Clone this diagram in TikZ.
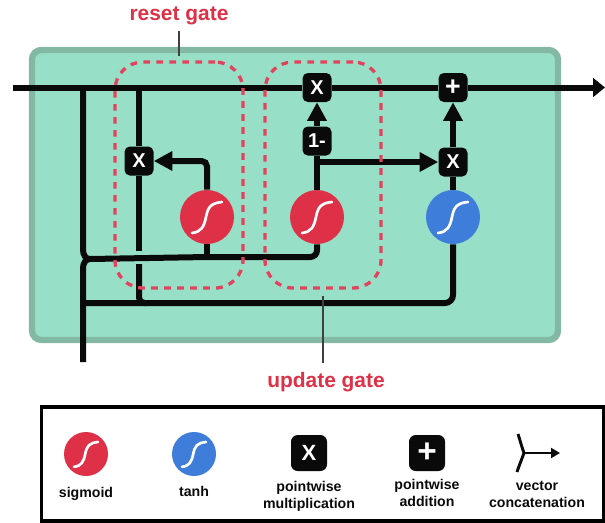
\documentclass[tikz,border=0pt]{standalone}
\usepackage{fontspec}
\setmainfont{Liberation Sans}
\usetikzlibrary{positioning,arrows.meta}

\definecolor{cellFill}{HTML}{98DFC8}
\definecolor{cellEdge}{HTML}{82B8A4}
\definecolor{sigRed}{HTML}{DE3147}
\definecolor{tanhBlue}{HTML}{3E7DD9}
\definecolor{gateRed}{HTML}{E2435C}
\definecolor{opBlack}{HTML}{0A0A0A}

\newcommand{\scurve}[2]{\draw[curveLine, shift={(#1)}, scale=#2] (-15,16) .. controls (-6,15) and (-3,10) .. (-1,0) .. controls (1,-10) and (4,-14) .. (15,-15);}

\begin{document}
\begin{tikzpicture}[x=0.75pt,y=-0.75pt,>={Triangle[length=14pt,width=14pt]}]

    %
    % Styles for cell, operations, wires and gates
    %
    \tikzstyle{cellBox} = [draw=cellEdge, fill=cellFill, line width=4.7pt, rounded corners=7pt,
                           minimum width=394.5pt, minimum height=217.5pt]
    \tikzstyle{opBox} = [fill=opBlack, rounded corners=4pt, inner sep=0pt, text=white,
                         minimum width=21.75pt, minimum height=21.75pt,
                         font={\fontsize{15}{15}\selectfont\bfseries}]
    \tikzstyle{activation} = [circle, inner sep=0pt, minimum size=40.5pt]
    \tikzstyle{legendOp} = [opBox, rounded corners=5pt, minimum width=27pt, minimum height=27pt,
                            font={\fontsize{16.5}{16.5}\selectfont\bfseries}]
    \tikzstyle{legendAct} = [circle, inner sep=0pt, minimum size=33pt]
    \tikzstyle{wire} = [opBlack, line width=4.5pt]
    \tikzstyle{curveLine} = [white, line width=2pt, line cap=round]
    \tikzstyle{gateBox} = [draw=gateRed, line width=2.5pt, dash pattern=on 5pt off 4.75pt,
                           rounded corners=21pt, minimum height=169.5pt]
    \tikzstyle{gateLabel} = [text=sigRed, font={\fontsize{15.7}{18}\selectfont\bfseries}]
    \tikzstyle{callout} = [black!75, line width=0.8pt]
    \tikzstyle{legendLabel} = [align=center, text=opBlack, inner sep=0pt,
                               font={\fontsize{10.6}{12.8}\selectfont\bfseries}]

    \useasboundingbox (0,0) rectangle (605,522);

    %
    % Cell and operations
    %
    \node[cellBox, name=cell] at (295,195) {};
    \node[opBox, name=resetMul] at (139,161) {X};
    \node[opBox, name=updateMul] at (317,87.5) {X};
    \node[opBox, name=oneMinus] at (317,141) {1-};
    \node[opBox, name=outMul] at (453,162) {X};
    \node[opBox, name=outAdd, font={\fontsize{20}{20}\selectfont\bfseries}] at (453,87.5) {\raisebox{-1pt}{+}};
    \node[activation, fill=sigRed, name=resetSig] at (207,217) {};
    \node[activation, fill=sigRed, name=updateSig] at (317,217) {};
    \node[activation, fill=tanhBlue, name=outTanh] at (453,217) {};
    \scurve{resetSig}{1}
    \scurve{updateSig}{1}
    \scurve{outTanh}{1}

    %
    % Points where the wires start, bend and meet
    %
    \coordinate (stateIn) at (13,87.5);
    \coordinate (stateOut) at (605,87.5);
    \coordinate (stateDown) at (83,87.5);
    \coordinate (stateTap) at (139,87.5);
    \coordinate (inputIn) at (83,362);
    \coordinate (merge) at (90,259);
    \coordinate (mergeEnd) at (207,257);
    \coordinate (hopTop) at (139,251);
    \coordinate (hopBottom) at (139,264);
    \coordinate (lowLeft) at (83,303);
    \coordinate (lowHop) at (147,303);
    \coordinate (branch) at (317,162);

    %
    % Wires
    %
    \draw[wire] (stateIn) -- (updateMul);
    \draw[wire] (updateMul) -- (outAdd);
    \draw[wire, -{Triangle[length=9pt,width=14pt]}] (outAdd) -- (stateOut);
    \draw[wire] (stateDown) -- (83,250) to[out=-90,in=180] (merge);
    \draw[wire] (inputIn) -- (83,268) to[out=90,in=180] (merge);
    \draw[wire] (merge) -- (mergeEnd);
    \draw[wire, rounded corners=5pt] (mergeEnd) -| (updateSig);
    \draw[wire] (resetSig) -- (mergeEnd);
    \draw[wire,->, rounded corners=4pt] (resetSig) |- (resetMul);
    \draw[wire] (stateTap) -- (resetMul);
    \draw[wire] (resetMul) -- (hopTop);
    \draw[wire, rounded corners=4pt] (hopBottom) |- (lowHop);
    \draw[wire, rounded corners=6pt] (lowLeft) -| (outTanh);
    \draw[wire] (updateSig) -- (oneMinus);
    \draw[wire,->] (oneMinus) -- (updateMul);
    \draw[wire,->] (branch) -- (outMul);
    \draw[wire] (outTanh) -- (outMul);
    \draw[wire,->] (outMul) -- (outAdd);

    %
    % Gates and their labels
    %
    \node[gateBox, minimum width=96pt, name=resetGate] at (179,175) {};
    \node[gateBox, minimum width=87pt, name=updateGate] at (323,175) {};
    \node[gateLabel, name=resetLabel] at (179,16) {reset gate};
    \node[gateLabel, name=updateLabel] at (326,382) {update gate};
    \coordinate (resetTick) at (179,31);
    \coordinate (updateTick) at (323,363);
    \draw[callout, shorten >=3.5pt] (resetTick) -- (resetGate.north);
    \draw[callout, shorten >=5pt] (updateTick) -- (updateGate.south);

    %
    % Legend
    %
    \node[draw=black, line width=2.8pt, minimum width=421.5pt, minimum height=85.5pt, name=legendBox] at (322.5,464) {};
    \node[legendAct, fill=sigRed, name=legendSig] at (86,454) {};
    \node[legendAct, fill=tanhBlue, name=legendTanh] at (194,454) {};
    \scurve{legendSig}{0.8}
    \scurve{legendTanh}{0.8}
    \node[legendOp, name=legendMul] at (309,453) {X};
    \node[legendOp, name=legendAdd, font={\fontsize{25}{25}\selectfont\bfseries}] at (427,453) {\raisebox{-1.2pt}{+}};
    \node[legendLabel, below=8pt of legendSig] {sigmoid};
    \node[legendLabel, below=7pt of legendTanh] {tanh};
    \node[legendLabel, below=7pt of legendMul] {pointwise\\multiplication};
    \node[legendLabel, below=5.5pt of legendAdd] {pointwise\\addition};

    \coordinate (concatTop) at (518,434);
    \coordinate (concatBottom) at (517,472);
    \coordinate (concatMid) at (524,453);
    \coordinate (concatEnd) at (560,453);
    \draw[opBlack, line width=2.2pt] (concatTop) to[out=-72,in=110] (concatMid);
    \draw[opBlack, line width=2.2pt] (concatBottom) to[out=72,in=-110] (concatMid);
    \draw[opBlack, line width=1.5pt, -{Triangle[length=6.75pt,width=7.5pt]}] (concatMid) -- (concatEnd);
    \node[legendLabel, name=concatLabel] at (537,494.5) {vector\\concatenation};
\end{tikzpicture}
\end{document}
